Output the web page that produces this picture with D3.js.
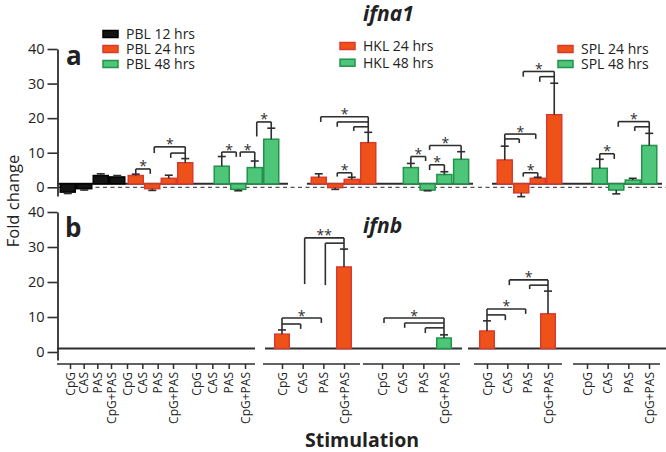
<!DOCTYPE html>
<html><head><meta charset="utf-8">
<script src="https://cdn.jsdelivr.net/npm/d3@7"></script>
<style>body{margin:0;background:#fff;} svg{display:block;font-family:"Open Sans",sans-serif;}</style>
</head><body><svg id="c" width="666" height="452"></svg>
<script>
// ---------------- data ----------------
const conditions = ["CpG","CAS","PAS","CpG+PAS"];
const groupNames = ["PBL 12 hrs","PBL 24 hrs","PBL 48 hrs","HKL 24 hrs","HKL 48 hrs","SPL 24 hrs","SPL 48 hrs"];
const groupColor = ["black","red","green","red","green","red","green"];
const yTickValues = [0,10,20,30,40];
const panelTitles = ["ifna1","ifnb"];
const panelLetters = ["a","b"];

// ifna1 fold change (bar value) and error-bar end, per group, per condition
const ifna1Mean = [
  [-1.4,-0.4, 3.4, 3.0],
  [ 3.4,-0.4, 2.6, 7.1],
  [ 6.1,-0.6, 5.7,13.9],
  [ 2.9,-0.1, 2.3,12.9],
  [ 5.7,-0.8, 3.7, 8.1],
  [ 7.9,-1.6, 2.6,21.0],
  [ 5.5,-0.8, 2.1,12.1]];
const ifna1Err = [
  [-1.8,-0.8, 3.9, 3.4],
  [ 3.8,-0.9, 3.5, 8.3],
  [ 8.9,-1.0, 7.6,17.1],
  [ 3.9,-0.6, 2.9,15.9],
  [ 6.9,-1.0, 4.5,10.3],
  [11.9,-2.7, 2.9,30.1],
  [ 8.1,-1.9, 2.6,15.6]];
// ifnb
const ifnbMean = [
  [null,null,null,null],
  [null,null,null,null],
  [null,null,null,null],
  [ 5.1,null,null,24.3],
  [null,null,null, 4.0],
  [ 6.0,null,null,10.9],
  [null,null,null,null]];
const ifnbErr = [
  [null,null,null,null],
  [null,null,null,null],
  [null,null,null,null],
  [ 6.3,null,null,29.4],
  [null,null,null, 4.9],
  [ 8.9,null,null,17.4],
  [null,null,null,null]];

// significance brackets: group, source bar, top level, label, legs [target, line level, leg end]
const ifna1Sig = [
  {g:1, src:0, level:5.3,  star:"*", legs:[[1,5.3,3.9]]},
  {g:1, src:3, level:11.7, star:"*", legs:[[1,11.7,9.9],[2,9.9,8.5]]},
  {g:2, src:0, level:10.2, star:"*", legs:[[1,10.2,8.8]]},
  {g:2, src:2, level:10.2, star:"*", legs:[[1,10.2,8.8]]},
  {g:2, src:3, level:18.9, star:"*", legs:[[2,18.9,14.7]]},
  {g:3, src:2, level:4.2,  star:"*", legs:[[1,4.2,3.1]]},
  {g:3, src:3, level:20.4, star:"*", legs:[[0,20.4,18.9],[1,18.9,17.5],[2,17.5,16.3]]},
  {g:4, src:0, level:8.9,  star:"*", legs:[[1,8.9,7.6]]},
  {g:4, src:2, level:6.5,  star:"*", legs:[[1,6.5,5.0]]},
  {g:4, src:3, level:12.1, star:"*", legs:[[1,12.1,10.8]]},
  {g:5, src:0, level:15.4, star:"*", legs:[[2,15.4,14.0],[1,14.0,12.8]]},
  {g:5, src:2, level:4.2,  star:"*", legs:[[1,4.2,3.1]]},
  {g:5, src:3, level:33.5, star:"*", legs:[[1,33.5,32.0],[2,32.0,30.5]]},
  {g:6, src:0, level:9.7,  star:"*", legs:[[1,9.7,8.2]]},
  {g:6, src:3, level:19.0, star:"*", legs:[[1,19.0,17.5],[2,17.5,16.3]]}
];
const ifnbSig = [
  {g:3, src:3, level:32.6, star:"**", legs:[[1,32.6,19.4],[2,31.1,19.1]]},
  {g:3, src:0, level:9.7,  star:"*",  legs:[[2,9.7,8.3],[1,8.0,6.6]]},
  {g:4, src:3, level:9.7,  star:"*",  legs:[[0,9.7,8.3],[1,8.3,6.9],[2,6.9,5.4]]},
  {g:5, src:0, level:12.3, star:"*",  legs:[[2,12.3,10.9],[1,10.6,9.1]]},
  {g:5, src:3, level:20.6, star:"*",  legs:[[1,20.6,19.1],[2,19.1,18.0]]}
];

// ---------------- layout / style ----------------
const svg = d3.select("#c");
const ink = "#2e2e2e";
const fills = {black:"#141414", red:"#EF5219", green:"#4EC679"};
const strokes = {black:"#000000", red:"#DA3A2C", green:"#23924B"};

const yA = d3.scaleLinear().domain([0,40]).range([187.3,49]);
const yB = d3.scaleLinear().domain([0,40]).range([352,212]);

const bandRangesA = [[60,125],[128,193],[214,279],[311,376],[403,469],[497,562],[592,657]];
const xA = bandRangesA.map(r => d3.scaleBand().domain(conditions).range(r).paddingInner(0.06));
const centerA = (g,i) => xA[g](conditions[i]) + xA[g].bandwidth()/2;

const pointRangesB = [[70,111],[127,173],[196,245],[282,344],[382,444],[487,548],[587,649]];
const xB = pointRangesB.map(r => d3.scalePoint().domain(conditions).range(r));
const centerB = (g,i) => xB[g](conditions[i]);
const barWB = 16;

const baseSegA = [[57,288],[307,473],[492,662]];
const baseSegB = [[57,255],[265,462],[468,666]];
const axisSegB = [{r:[57,255],g:[0,1,2]},{r:[263,360],g:[3]},{r:[363,460],g:[4]},{r:[474,562],g:[5]},{r:[573,660],g:[6]}];

function line(parent,x1,y1,x2,y2,w){
  parent.append("line").attr("x1",x1).attr("y1",y1).attr("x2",x2).attr("y2",y2)
    .attr("stroke",ink).attr("stroke-width",w||1.6);
}

// dashed zero line (panel a)
svg.append("line").attr("x1",58).attr("x2",666).attr("y1",yA(0)).attr("y2",yA(0))
  .attr("stroke","#555").attr("stroke-width",1.3).attr("stroke-dasharray","4,3.5");

function drawPanel(y, mean, err, center, barW, baseSegs, sig){
  const g = svg.append("g");
  baseSegs.forEach(s => line(g, s[0], y(1), s[1], y(1), 2));
  mean.forEach((row,gi) => row.forEach((v,i) => {
    if (v === null) return;
    const cx = center(gi,i);
    const col = groupColor[gi];
    const y0 = y(1), y1 = y(v);
    g.append("rect").attr("x",cx-barW/2+0.75).attr("width",barW-1.5)
      .attr("y",Math.min(y0,y1)).attr("height",Math.abs(y1-y0))
      .attr("fill",fills[col]).attr("stroke",strokes[col]).attr("stroke-width",1.5);
    const e = err[gi][i];
    if (e !== null){
      line(g, cx, y1, cx, y(e), 1.6);
      line(g, cx-4, y(e), cx+4, y(e), 1.6);
    }
  }));
  sig.forEach(b => {
    const sx = center(b.g,b.src);
    const topY = y(b.level);
    line(g, sx, topY, sx, y(err[b.g][b.src]), 1.6);
    let far = sx;
    b.legs.forEach(([t,lv,bot]) => {
      let tx = center(b.g,t);
      tx += (sx > tx ? 2 : -2);
      line(g, sx, y(lv), tx, y(lv), 1.6);
      line(g, tx, y(lv), tx, y(bot), 1.6);
      if (Math.abs(tx-sx) > Math.abs(far-sx)) far = tx;
    });
    g.append("text").attr("x",(sx+far)/2).attr("y",topY+2.5)
      .attr("text-anchor","middle").attr("font-size",14).attr("fill",ink).text(b.star);
  });
}

drawPanel(yA, ifna1Mean, ifna1Err, centerA, xA[0].step(), baseSegA, ifna1Sig);
drawPanel(yB, ifnbMean, ifnbErr, centerB, barWB, baseSegB, ifnbSig);

// y axes
function yAxis(y, low){
  const s = d3.scaleLinear().domain([low,40]).range([y(low), y(40)]);
  const ax = svg.append("g").attr("transform","translate(57.5,0)")
    .call(d3.axisLeft(s).tickValues(yTickValues).tickSize(10).tickSizeOuter(0).tickPadding(3).tickFormat(d3.format("d")));
  ax.select(".domain").attr("stroke",ink).attr("stroke-width",1.8);
  ax.selectAll(".tick line").attr("stroke",ink).attr("stroke-width",1.6);
  ax.selectAll(".tick text").attr("fill","#222").attr("font-size",14.5).attr("font-family","Open Sans");
}
yAxis(yA, -2.5);
yAxis(yB, -2.3);

// x axis (panel b only)
axisSegB.forEach(seg => {
  line(svg, seg.r[0], 364, seg.r[1], 364, 1.6);
  seg.g.forEach(gi => {
    const ax = svg.append("g").attr("transform","translate(0,364)")
      .call(d3.axisBottom(xB[gi]).tickSize(5).tickSizeOuter(0));
    ax.select(".domain").remove();
    ax.selectAll(".tick line").attr("stroke",ink).attr("stroke-width",1.5);
    ax.selectAll(".tick text").attr("transform","rotate(-90)").attr("x",-8).attr("y",0)
      .attr("dy","0.35em").style("text-anchor","end").attr("fill","#222")
      .attr("font-size",12).attr("font-family","Open Sans");
  });
});

// legends
const legendLayout = [
  {x:103, y:34, dy:15,   items:[0,1,2]},
  {x:340, y:46, dy:16.7, items:[3,4]},
  {x:558, y:49, dy:15,   items:[5,6]}
];
legendLayout.forEach(L => L.items.forEach((gi,k) => {
  const cy = L.y + k*L.dy, col = groupColor[gi];
  svg.append("rect").attr("x",L.x).attr("y",cy-3.5).attr("width",15).attr("height",7)
    .attr("fill",fills[col]).attr("stroke",strokes[col]).attr("stroke-width",1.5);
  svg.append("text").attr("x",L.x+23).attr("y",cy+5).attr("font-size",14).attr("fill","#222")
    .text(groupNames[gi]);
}));

// titles & letters
svg.append("text").attr("x",363).attr("y",21).attr("font-size",21).attr("font-weight","bold")
  .attr("font-style","italic").attr("fill","#222").text(panelTitles[0]);
svg.append("text").attr("x",363).attr("y",233).attr("font-size",21).attr("font-weight","bold")
  .attr("font-style","italic").attr("fill","#222").text(panelTitles[1]);
svg.append("text").attr("x",66).attr("y",65).attr("font-size",26).attr("font-weight","bold")
  .attr("fill","#222").text(panelLetters[0]);
svg.append("text").attr("x",65).attr("y",237).attr("font-size",26).attr("font-weight","bold")
  .attr("fill","#222").text(panelLetters[1]);

// axis titles
svg.append("text").attr("transform","translate(18.5,201) rotate(-90)").attr("text-anchor","middle")
  .attr("font-size",16.5).attr("fill","#222").text("Fold change");
svg.append("text").attr("x",362).attr("y",447).attr("text-anchor","middle")
  .attr("font-size",19.5).attr("font-weight","bold").attr("fill","#222").text("Stimulation");
</script></body></html>
